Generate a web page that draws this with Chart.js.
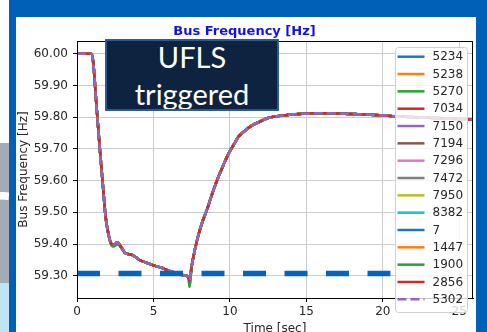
<!DOCTYPE html>
<html>
<head>
<meta charset="utf-8">
<script src="https://cdn.jsdelivr.net/npm/chart.js"></script>
<style>
  html, body { margin: 0; padding: 0; width: 487px; height: 332px; overflow: hidden; background: #fff; }
  #stage { position: relative; width: 487px; height: 332px; overflow: hidden; }
  .blk { position: absolute; }
  #chart { position: absolute; left: 0; top: 0; }
  #ufls {
    position: absolute; left: 105px; top: 39px; width: 170px; height: 68px;
    background: #0e2340; border: 2px solid #2a5a96;
    color: #fff; font-family: Lato, "Open Sans", sans-serif; font-size: 29px;
    line-height: 37px; text-align: center; overflow: hidden;
  }
  #ufls div { position: relative; top: -3px; }
  #bigR {
    position: absolute; left: -30px; top: 158px; font-family: "Open Sans", sans-serif;
    font-size: 100px; color: #fff; line-height: 1;
  }
</style>
</head>
<body>
<div id="stage">
  <!-- fondo de la diapositiva detras de la imagen -->
  <div class="blk" style="left:0;top:143px;width:10px;height:140px;background:#a4abb3;"></div>
  <div class="blk" style="left:0;top:283px;width:10px;height:49px;background:#bde6f2;"></div>
  <div id="bigR">r</div>
  <div class="blk" style="left:9px;top:0;width:478px;height:17px;background:#0060b8;"></div>
  <div class="blk" style="left:9px;top:0;width:7px;height:332px;background:#0060b8;"></div>
  <div class="blk" style="left:476px;top:0;width:11px;height:332px;background:#0060b8;"></div>
  <div class="blk" style="left:16px;top:17px;width:460px;height:315px;background:#fff;"></div>

  <canvas id="chart" width="487" height="340"></canvas>

  <div id="ufls"><div>UFLS<br>triggered</div></div>
</div>

<script>
// =====================================================
// DATOS
// =====================================================

const busIds = ["5234", "5238", "5270", "7034", "7150", "7194", "7296",
                "7472", "7950", "8382", "7", "1447", "1900", "2856", "5302"];

const busColors = ["#1f77b4", "#ff7f0e", "#2ca02c", "#d62728", "#9467bd", "#8c564b", "#e377c2",
                   "#7f7f7f", "#bcbd22", "#17becf", "#1f77b4", "#ff7f0e", "#2ca02c", "#d62728", "#9467bd"];

const timeSec = [0, 0.96, 1.07, 1.28, 1.5, 1.72, 1.87, 2.05, 2.2, 2.35, 2.5, 2.62, 2.75, 2.95,
                 3.14, 3.4, 3.6, 3.8, 4.13, 4.5, 5.0, 5.5, 5.9, 6.4, 6.96, 7.29, 7.36, 7.5,
                 7.73, 7.95, 8.2, 8.49, 8.85, 9.25, 9.6, 9.91, 10.25, 10.56, 11.0, 11.44, 12.0,
                 12.53, 13.1, 13.62, 14.5, 15.5, 16.5, 17.5, 18.5, 19.5, 20.5, 21.5, 22.5,
                 23.5, 24.5, 25.5, 26];

const freqMain = [60.0, 60.0, 59.969, 59.832, 59.696, 59.57, 59.486, 59.433, 59.405, 59.398, 59.4, 59.406, 59.4, 59.386,
                  59.372, 59.368, 59.366, 59.36, 59.349, 59.342, 59.333, 59.326, 59.318, 59.31, 59.302, 59.296, 59.285, 59.33,
                  59.387, 59.43, 59.47, 59.507, 59.56, 59.612, 59.652, 59.685, 59.713, 59.738, 59.758, 59.774, 59.787,
                  59.798, 59.803, 59.806, 59.81, 59.812, 59.812, 59.811, 59.809, 59.807, 59.804, 59.801, 59.799,
                  59.797, 59.795, 59.793, 59.792];

// 5270 / 1900 : bajan un poco mas en el minimo
const freqGreen = [60.0, 60.0, 59.969, 59.832, 59.696, 59.57, 59.486, 59.433, 59.402, 59.393, 59.396, 59.4, 59.397, 59.384,
                   59.372, 59.368, 59.366, 59.36, 59.349, 59.342, 59.333, 59.326, 59.318, 59.31, 59.302, 59.296, 59.265, 59.33,
                   59.387, 59.43, 59.47, 59.507, 59.56, 59.612, 59.652, 59.685, 59.713, 59.738, 59.758, 59.774, 59.787,
                   59.798, 59.803, 59.806, 59.81, 59.812, 59.812, 59.811, 59.809, 59.807, 59.804, 59.801, 59.799,
                   59.797, 59.795, 59.793, 59.792];

// linea de umbral UFLS (inicio y fin en segundos)
const uflsLevel = 59.307;
const uflsSpan = [0, 20.5];

const xTicks = [0, 5, 10, 15, 20, 25];
const yTicks = [59.3, 59.4, 59.5, 59.6, 59.7, 59.8, 59.9, 60.0];

// =====================================================
// PLUGINS
// =====================================================

// marco completo (arriba y derecha)
const marco = {
  id: "marco",
  afterDatasetsDraw(chart) {
    const { ctx, chartArea: a } = chart;
    ctx.save();
    ctx.strokeStyle = "#000";
    ctx.lineWidth = 1;
    ctx.strokeRect(a.left + 0.5, a.top + 0.5, a.right - a.left - 1, a.bottom - a.top);
    ctx.restore();
  }
};

// leyenda estilo matplotlib, dentro del grafico
const leyenda = {
  id: "leyenda",
  afterDraw(chart) {
    const { ctx, chartArea: a } = chart;
    const items = chart.data.datasets.filter(d => d.label);
    const x0 = a.right - 78, y0 = a.top + 6, w = 72, h = 265;

    ctx.save();
    ctx.beginPath();
    ctx.roundRect(x0 + 0.5, y0 + 0.5, w, h, 3);
    ctx.fillStyle = "rgba(255,255,255,0.8)";
    ctx.fill();
    ctx.strokeStyle = "#d0d0d0";
    ctx.lineWidth = 1;
    ctx.stroke();

    ctx.font = "12px 'DejaVu Sans'";
    ctx.textBaseline = "middle";
    ctx.textAlign = "left";

    items.forEach((d, i) => {
      const y = y0 + 9.7 + i * 17.33;
      ctx.beginPath();
      ctx.setLineDash(d.borderDash || []);
      ctx.strokeStyle = d.borderColor;
      ctx.lineWidth = 2.5;
      ctx.moveTo(x0 + 2.5, y);
      ctx.lineTo(x0 + 29.5, y);
      ctx.stroke();
      ctx.setLineDash([]);
      ctx.fillStyle = "#262626";
      ctx.fillText(d.label, x0 + 37.5, y + 0.5);
    });
    ctx.restore();
  }
};

// =====================================================
// GRAFICO
// =====================================================

const series = busIds.map((id, i) => {
  const valores = (id === "5270" || id === "1900") ? freqGreen : freqMain;
  return {
    label: id,
    data: timeSec.map((t, k) => ({ x: t, y: valores[k] })),
    borderColor: busColors[i],
    borderWidth: 2.5,
    borderDash: i === busIds.length - 1 ? [9, 4] : [],
    pointRadius: 0,
    fill: false,
    cubicInterpolationMode: "monotone",
    order: busIds.length - i + 1
  };
});

series.push({
  label: "",
  data: uflsSpan.map(t => ({ x: t, y: uflsLevel })),
  borderColor: "#0563c1",
  borderWidth: 5.5,
  borderDash: [23, 18.5],
  borderCapStyle: "butt",
  pointRadius: 0,
  fill: false,
  order: 0
});

Chart.defaults.font.family = "'DejaVu Sans'";
Chart.defaults.color = "#262626";

new Chart(document.getElementById("chart"), {
  type: "line",
  data: { datasets: series },
  options: {
    responsive: false,
    animation: false,
    devicePixelRatio: 1,
    layout: { padding: { left: 16, right: 14, top: 16, bottom: 0 } },
    plugins: {
      legend: { display: false },
      tooltip: { enabled: false },
      title: {
        display: true,
        text: "Bus Frequency [Hz]",
        color: "#1010ee",
        font: { size: 13, weight: "bold" },
        padding: { top: 7.5, bottom: 1.9 }
      }
    },
    scales: {
      x: {
        type: "linear",
        min: 0,
        max: 25.9,
        afterBuildTicks: s => { s.ticks = xTicks.map(v => ({ value: v })); },
        afterFit: s => { s.height = 42; },
        ticks: { font: { size: 12 }, padding: 3, maxRotation: 0, callback: v => String(v) },
        grid: { color: "#cccccc", lineWidth: 1, tickColor: "#000", tickLength: 4 },
        border: { color: "#000", width: 1 },
        title: { display: true, text: "Time [sec]", font: { size: 12 }, padding: { top: 0, bottom: 4 } }
      },
      y: {
        type: "linear",
        min: 59.23,
        max: 60.04,
        afterBuildTicks: s => { s.ticks = yTicks.map(v => ({ value: v })); },
        afterFit: s => { s.width = 61; },
        ticks: { font: { size: 12 }, padding: 5, callback: v => Number(v).toFixed(2) },
        grid: { color: "#cccccc", lineWidth: 1, tickColor: "#000", tickLength: 4 },
        border: { color: "#000", width: 1 },
        title: { display: true, text: "Bus Frequency [Hz]", font: { size: 12 }, padding: { top: 0.5, bottom: 0 } }
      }
    }
  },
  plugins: [marco, leyenda]
});
</script>
</body>
</html>
